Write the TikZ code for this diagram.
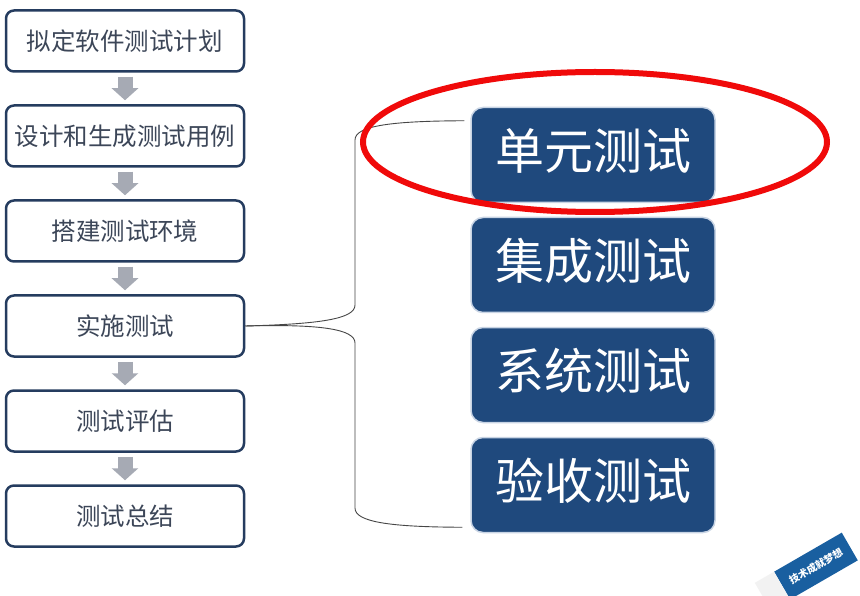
\documentclass[tikz,border=0pt]{standalone}
\usepackage{fontspec}
\newfontfamily\cjk{Noto Sans CJK SC}
\usetikzlibrary{arrows.meta}
\definecolor{leftborder}{RGB}{37,60,95}
\definecolor{lefttext}{RGB}{60,70,88}
\definecolor{rightfill}{RGB}{31,73,125}
\definecolor{rightborder}{RGB}{200,212,228}
\definecolor{arrowgray}{RGB}{166,170,180}
\definecolor{connector}{RGB}{70,70,70}
\definecolor{hlred}{RGB}{240,10,10}
\definecolor{wmblue}{RGB}{25,95,160}
\begin{document}
\begin{tikzpicture}[x=1pt,y=-1pt,
 stepbox/.style={draw=leftborder, line width=2.5pt, rounded corners=8pt, fill=white, minimum width=238pt, minimum height=61pt, inner sep=0pt, text=lefttext, font=\cjk\fontsize{24.5}{24.5}\selectfont},
 testbox/.style={draw=rightborder, line width=1.5pt, rounded corners=12pt, fill=rightfill, minimum width=244pt, minimum height=95pt, inner sep=0pt, text=white, font=\cjk\fontsize{49}{49}\selectfont},
 testlabel/.style={text=white, font=\cjk\fontsize{49}{49}\selectfont, inner sep=0pt},
 flowarrow/.style={draw=arrowgray, line width=15pt, -{Triangle[width=26pt,length=12pt]}},
 brace/.style={draw=connector, line width=0.9pt}
]
\useasboundingbox (0,0) rectangle (860,596);
\fill[white] (0,0) rectangle (860,596);
\clip (0,0) rectangle (860,596);

% left process boxes
\node[stepbox] (b1) at (125,41)  {拟定软件测试计划};
\node[stepbox] (b2) at (125,136) {设计和生成测试用例};
\node[stepbox] (b3) at (125,231) {搭建测试环境};
\node[stepbox] (b4) at (125,326) {实施测试};
\node[stepbox] (b5) at (125,421) {测试评估};
\node[stepbox] (b6) at (125,516) {测试总结};

% block arrows
\draw[flowarrow] ([yshift=-4pt]b1.south) -- ([yshift=4pt]b2.north);
\draw[flowarrow] ([yshift=-4pt]b2.south) -- ([yshift=4pt]b3.north);
\draw[flowarrow] ([yshift=-4pt]b3.south) -- ([yshift=4pt]b4.north);
\draw[flowarrow] ([yshift=-4pt]b4.south) -- ([yshift=4pt]b5.north);
\draw[flowarrow] ([yshift=-4pt]b5.south) -- ([yshift=4pt]b6.north);

% right test boxes
\node[testbox] (r1) at (593,155) {};
\node[testbox] (r2) at (593,265) {};
\node[testbox] (r3) at (593,375) {};
\node[testbox] (r4) at (593,485) {};
\node[testlabel] (t1) at ([yshift=4pt]r1.center) {单元测试};
\node[testlabel] (t2) at ([yshift=4pt]r2.center) {集成测试};
\node[testlabel] (t3) at ([yshift=4pt]r3.center) {系统测试};
\node[testlabel] (t4) at ([yshift=4pt]r4.center) {验收测试};

% brace connector
\draw[brace] (b4.east) .. controls (320,324) and (355,319) .. (355,305) -- (355,140)
  .. controls (355,126) and (390,121) .. ([shift={(-6,14)}]r1.north west);
\draw[brace] (b4.east) .. controls (320,324) and (355,329) .. (355,343) -- (355,508)
  .. controls (355,522) and (390,527) .. ([shift={(-8,-6)}]r4.south west);

% highlight ellipse
\draw[hlred, line width=6pt] (595,142) ellipse [x radius=232pt, y radius=70pt];

% watermark
\node[fill=wmblue, minimum width=78pt, minimum height=32pt, inner sep=0pt, rotate=30,
  text=white, font=\cjk\bfseries\fontsize{10}{10}\selectfont] (wm) at (816,566) {技术成就梦想};
\node[fill=gray!10, minimum width=22pt, minimum height=32pt, inner sep=0pt, rotate=30, anchor=east] (wmcap) at (wm.west) {};
\end{tikzpicture}
\end{document}
